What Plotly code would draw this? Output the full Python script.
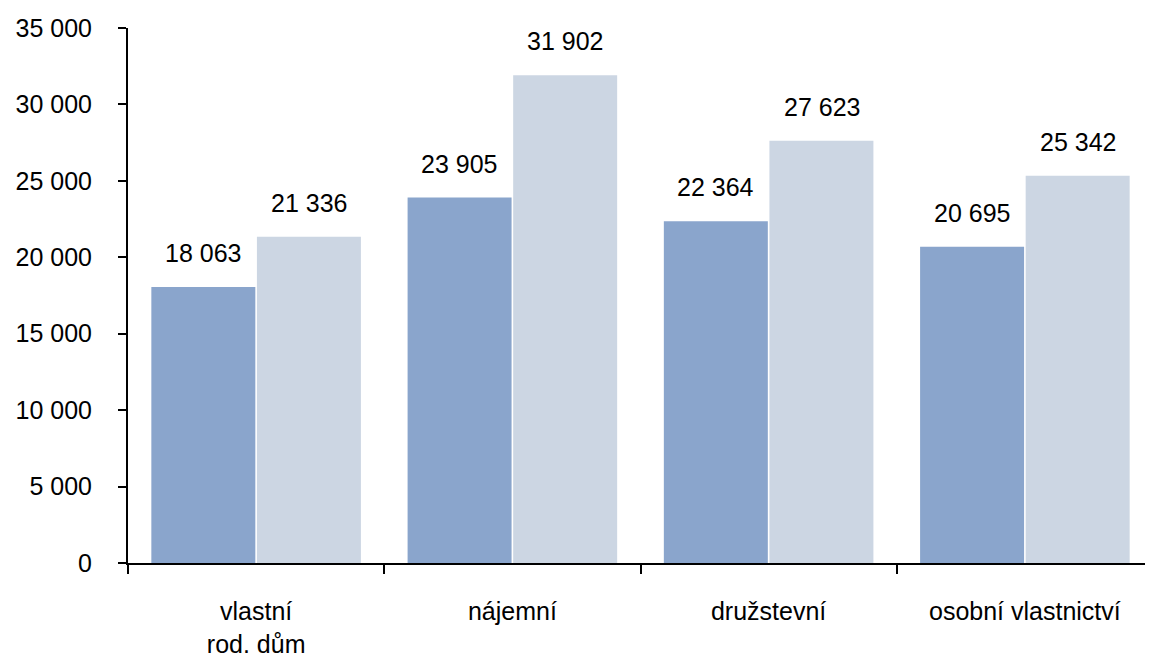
import plotly.graph_objects as go

categories = ["vlastní<br>rod. dům", "nájemní", "družstevní", "osobní vlastnictví"]
series_a = [18063, 23905, 22364, 20695]
series_b = [21336, 31902, 27623, 25342]
ytick_vals = [0, 5000, 10000, 15000, 20000, 25000, 30000, 35000]

color_a = "#8AA5CC"
color_b = "#CCD6E3"
font_family = "Liberation Sans, Arial, sans-serif"

fig = go.Figure()
fig.add_trace(go.Bar(x=categories, y=series_a, marker_color=color_a, marker_line_width=0, name="A"))
fig.add_trace(go.Bar(x=categories, y=series_b, marker_color=color_b, marker_line_width=0, name="B"))

# value labels above bars
half = 53
for i, c in enumerate(categories):
    for vals, sh in ((series_a, -half), (series_b, half)):
        fig.add_annotation(x=c, y=vals[i], xref="x", yref="y", text=f"{vals[i]:,}".replace(",", " "),
                           showarrow=False, xshift=sh, yshift=34, yanchor="middle",
                           font=dict(size=25, color="#000000", family=font_family))

fig.update_layout(
    width=1145, height=649,
    margin=dict(l=120, r=0, t=20, b=94),
    plot_bgcolor="white", paper_bgcolor="white",
    barmode="group", bargap=0.176, bargroupgap=0.015,
    showlegend=False,
    separators=", ",
    font=dict(family=font_family, size=25, color="#000000"),
)
fig.update_xaxes(
    showline=True, linecolor="black", linewidth=2,
    ticks="outside", tickson="boundaries", ticklen=9, tickwidth=2, tickcolor="black",
    ticklabelstandoff=25, showgrid=False,
)
fig.update_yaxes(
    range=[0, 35000], tickvals=ytick_vals, tickformat=",d",
    showline=True, linecolor="black", linewidth=2,
    ticks="outside", ticklen=8, tickwidth=2, tickcolor="black",
    ticklabelstandoff=21, showgrid=False, zeroline=False,
)

fig.write_html("out.html")
